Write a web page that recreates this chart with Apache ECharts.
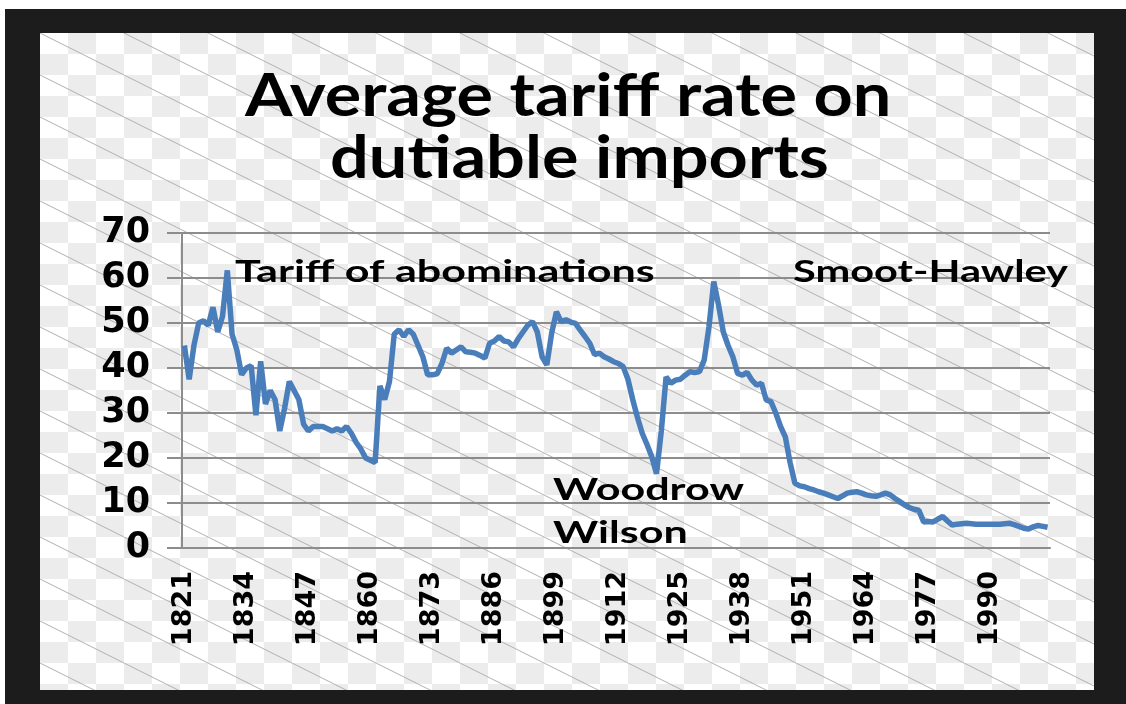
<!DOCTYPE html>
<html><head><meta charset="utf-8">
<script src="https://cdn.jsdelivr.net/npm/echarts@6/dist/echarts.min.js"></script>
<style>html,body{margin:0;padding:0;background:#fff}#c{width:1126px;height:704px}</style>
</head><body><div id="c"></div>
<script>
const firstYear = 1821;
const tariffRate = [
 45,37.5,45,50,50.5,49.5,53.5,48,51.5,61.7,
 47.5,44,38.5,40,40.5,29.5,41.5,32,35,33,
 26,31,37,35,33,27.5,26,27,27,27,
 26.5,26,26.5,26,27,25.5,23.5,22,20,19.5,
 19,36,33,37,47.5,48.5,47,48.5,47.5,45,
 42.5,38.5,38.5,38.7,41,44.4,43.3,44,44.7,43.6,
 43.5,43.3,42.8,42.2,45.5,46,47,46,45.8,44.7,
 46.5,48,49.5,50.3,48,42.5,40.7,47.7,52.5,50.3,
 50.7,50.2,49.9,48.4,47,45.5,43,43.3,42.5,42,
 41.4,41,40.3,37.5,33,29,25.5,23,20.3,16.5,
 26,38,36.6,37.3,37.5,38.4,39.2,39,39.2,41.8,
 49.2,59.2,54,48,45,42.5,38.8,38.4,39,37.3,
 36.2,36.6,32.9,32.5,30,27,24.7,19,14.4,13.8,
 13.6,13.2,12.9,12.5,12.2,11.8,11.4,11,11.6,12.2,
 12.4,12.5,12.2,11.8,11.6,11.5,11.8,12.2,11.8,11,
 10.3,9.6,9,8.6,8.4,5.8,5.9,5.8,6.4,7,
 6,5.1,5.3,5.4,5.5,5.4,5.3,5.3,5.3,5.3,
 5.3,5.3,5.4,5.5,5.2,4.8,4.4,4.2,4.7,5,
 4.8,4.6
];
const years = tariffRate.map((_, i) => String(firstYear + i));
const titleLines = ['Average tariff rate on', 'dutiable imports'];
const annotations = ['Tariff of abominations', 'Smoot-Hawley', 'Woodrow', 'Wilson'];

// background tile: checkerboard with diagonal lines
const tile = document.createElement('canvas');
tile.width = 168; tile.height = 42;
const g = tile.getContext('2d');
g.fillStyle = '#ffffff'; g.fillRect(0, 0, 168, 42);
g.fillStyle = '#ececec';
for (let cx = 0; cx < 6; cx++) for (let cy = 0; cy < 2; cy++) {
  if ((cx + cy) % 2 === 1) g.fillRect(cx * 28, cy * 21, 28, 21);
}
g.strokeStyle = '#b0b0b0'; g.lineWidth = 1;
for (let k = -2; k <= 2; k++) {
  g.beginPath(); g.moveTo(k * 84 - 84, -42); g.lineTo(k * 84 + 84, 42); g.stroke();
}

const chart = echarts.init(document.getElementById('c'));
const txt = (t, x, y, size, sx) => ({
  type: 'text', x: x, y: y, scaleX: sx, z: 5,
  style: { text: t, font: 'bold ' + size + 'px Lato', fill: '#000', textVerticalAlign: 'top' }
});
const frame = (x, y, w, h) => ({ type: 'rect', z: -8, shape: { x: x, y: y, width: w, height: h }, style: { fill: '#1c1c1c' } });
chart.setOption({
  backgroundColor: '#ffffff',
  animation: false,
  graphic: [
    { type: 'rect', x: 40, y: 33, z: -9, shape: { x: 0, y: 0, width: 1054, height: 657 }, style: { fill: { image: tile, repeat: 'repeat' } } },
    frame(5, 9, 35, 695),
    frame(1094, 9, 32, 695),
    frame(5, 9, 1121, 24),
    frame(5, 690, 1121, 14),
    txt(titleLines[0], 245, 67, 60, 1.14),
    txt(titleLines[1], 330, 129, 60, 1.14),
    txt(annotations[0], 235, 256, 31, 1.39),
    txt(annotations[1], 793, 256, 31, 1.34),
    txt(annotations[2], 553, 474, 31, 1.39),
    txt(annotations[3], 553, 517, 31, 1.39)
  ],
  grid: { left: 182, right: 76, top: 233, bottom: 156, containLabel: false },
  xAxis: {
    type: 'category', data: years, boundaryGap: true,
    axisLine: { lineStyle: { color: '#8c8c8c', width: 2 } },
    axisTick: { interval: 0, length: 9, lineStyle: { color: '#8c8c8c', width: 1 } },
    axisLabel: { interval: 12, rotate: 90, margin: 23, color: '#000', fontWeight: 'bold', fontSize: 27, fontFamily: 'DejaVu Sans' },
    splitLine: { show: false }
  },
  yAxis: {
    type: 'value', min: 0, max: 70, interval: 10,
    axisLine: { show: true, lineStyle: { color: '#8c8c8c', width: 2 } },
    axisTick: { show: true, length: 15, lineStyle: { color: '#8c8c8c', width: 2 } },
    axisLabel: { margin: 32, color: '#000', fontWeight: 'bold', fontSize: 35, fontFamily: 'DejaVu Sans' },
    splitLine: { show: true, lineStyle: { color: '#8c8c8c', width: 2 } }
  },
  series: [{
    type: 'line', data: tariffRate, symbol: 'none', smooth: false,
    lineStyle: { color: '#4a7ebb', width: 5.5 }, z: 3
  }]
});
</script></body></html>
